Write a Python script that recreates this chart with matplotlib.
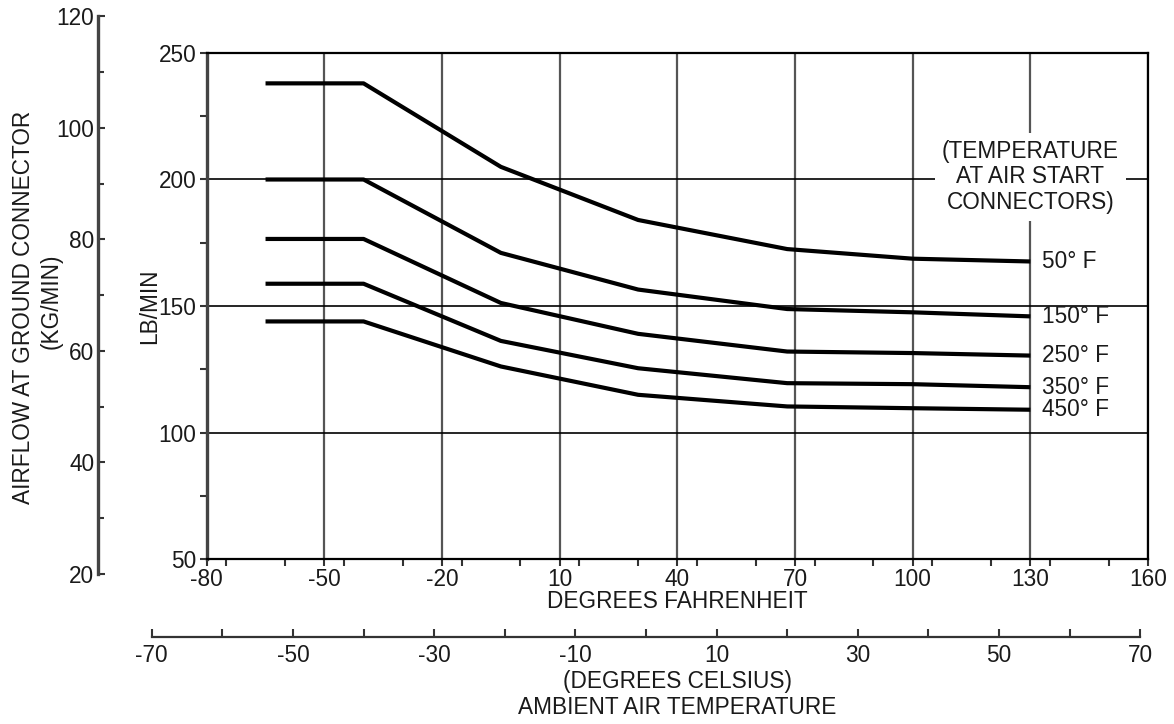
import matplotlib
matplotlib.use('Agg')
import matplotlib.pyplot as plt
from matplotlib.ticker import FixedLocator, MultipleLocator

plt.rcParams['font.family'] = ['Liberation Sans', 'DejaVu Sans']
plt.rcParams['axes.unicode_minus'] = False

# ---------------- data ----------------
temp_f = [-65, -40, -5, 30, 68, 100, 130]
series_labels = ['50° F', '150° F', '250° F', '350° F', '450° F']
flow_50 = [238, 238, 205, 184, 172.5, 168.7, 167.6]
flow_150 = [200, 200, 171, 156.5, 148.8, 147.5, 145.9]
flow_250 = [176.5, 176.5, 151.2, 139, 132, 131.4, 130.4]
flow_350 = [158.8, 158.8, 136.2, 125.4, 119.5, 119.1, 117.9]
flow_450 = [143.9, 143.9, 126.1, 114.9, 110.3, 109.6, 109]

f_ticks = [-80, -50, -20, 10, 40, 70, 100, 130, 160]
lb_ticks = [50, 100, 150, 200, 250]
kg_ticks = [20, 40, 60, 80, 100, 120]
c_ticks = [-70, -50, -30, -10, 10, 30, 50, 70]

LB_PER_KG = 2.20462

# ---------------- layout ----------------
W, H = 1174, 724
fig = plt.figure(figsize=(W / 100, H / 100), dpi=100)
L, R, B, T = 206.7, 1148.0, 559.0, 53.0   # main plot box in pixels
FS = 16.3
TXT = '#1a1a1a'

ax = fig.add_axes([L / W, 1 - B / H, (R - L) / W, (B - T) / H])
ax.set_xlim(-80, 160)
ax.set_ylim(50, 250)

for vals in [flow_50, flow_150, flow_250, flow_350, flow_450]:
    ax.plot(temp_f, vals, color='black', lw=3.0, solid_joinstyle='round',
            solid_capstyle='butt', zorder=3)
for lab, vals in zip(series_labels, [flow_50, flow_150, flow_250, flow_350, flow_450]):
    ax.text(133, vals[-1], lab, ha='left', va='center', fontsize=FS, color=TXT)

ax.text(130, 201, '(TEMPERATURE\nAT AIR START\nCONNECTORS)', ha='center',
        va='center', fontsize=FS, color=TXT, linespacing=1.15, zorder=4,
        bbox=dict(boxstyle='square,pad=0.3', fc='white', ec='none'))

ax.xaxis.set_major_locator(FixedLocator(f_ticks))
ax.xaxis.set_minor_locator(MultipleLocator(15))
ax.yaxis.set_major_locator(FixedLocator(lb_ticks))
ax.yaxis.set_minor_locator(MultipleLocator(25))
ax.tick_params(axis='both', which='major', direction='out', length=5, width=1.5,
               labelsize=FS, labelcolor=TXT, color='#333333')
ax.tick_params(axis='both', which='minor', direction='out', length=5, width=1.5,
               color='#333333')
ax.tick_params(axis='x', which='major', pad=1.5)
ax.tick_params(axis='y', which='major', pad=2.5)
ax.grid(axis='x', which='major', color='#555555', lw=1.6)
ax.grid(axis='y', which='major', color='black', lw=1.2)
ax.set_axisbelow(True)
ax.spines['top'].set_linewidth(1.6)
ax.spines['top'].set_color('black')
ax.spines['left'].set_linewidth(2.4)
ax.spines['left'].set_color('#444444')
ax.spines['bottom'].set_linewidth(1.6)
ax.spines['right'].set_linewidth(1.6)

def lb_to_py(lb):
    return B - (lb - 50) / 200 * (B - T)

def f_to_px(f):
    return L + (f + 80) / 240 * (R - L)

# ---------------- kg axis ----------------
kg_lo, kg_hi = kg_ticks[0], kg_ticks[-1]
py_lo, py_hi = lb_to_py(kg_lo * LB_PER_KG), lb_to_py(kg_hi * LB_PER_KG)
KX = 98.3
kax = fig.add_axes([KX / W, 1 - py_lo / H, 0.0005, (py_lo - py_hi) / H])
kax.set_ylim(kg_lo, kg_hi)
kax.patch.set_visible(False)
for s in ['top', 'right', 'bottom']:
    kax.spines[s].set_visible(False)
kax.spines['left'].set_linewidth(2.4)
kax.spines['left'].set_color('#444444')
kax.set_xticks([])
kax.yaxis.set_major_locator(FixedLocator(kg_ticks))
kax.yaxis.set_minor_locator(MultipleLocator(10))
kax.tick_params(axis='y', which='major', direction='in', length=5, width=1.5,
                labelsize=FS, labelcolor=TXT, pad=3, color='#333333')
kax.tick_params(axis='y', which='minor', direction='in', length=4, width=1.5,
                color='#333333')

# ---------------- Celsius axis ----------------
c_lo, c_hi = c_ticks[0], c_ticks[-1]
px_lo, px_hi = f_to_px(c_lo * 1.8 + 32), f_to_px(c_hi * 1.8 + 32)
CY = 636.7
cax = fig.add_axes([px_lo / W, 1 - CY / H, (px_hi - px_lo) / W, 0.0005])
cax.set_xlim(c_lo, c_hi)
cax.patch.set_visible(False)
for s in ['top', 'right', 'left']:
    cax.spines[s].set_visible(False)
cax.spines['bottom'].set_linewidth(1.6)
cax.spines['bottom'].set_color('#333333')
cax.set_yticks([])
cax.xaxis.set_major_locator(FixedLocator(c_ticks))
cax.xaxis.set_minor_locator(FixedLocator([c + 10 for c in c_ticks[:-1]]))
cax.tick_params(axis='x', which='major', direction='in', length=6, width=1.5,
                labelsize=FS, labelcolor=TXT, pad=5, color='#333333')
cax.tick_params(axis='x', which='minor', direction='in', length=6, width=1.5,
                color='#333333')

# ---------------- titles ----------------
cx = (L + R) / 2
fig.text(cx / W, 1 - 601.7 / H, 'DEGREES FAHRENHEIT', ha='center', va='center',
         fontsize=FS, color=TXT)
fig.text(cx / W, 1 - 681.7 / H, '(DEGREES CELSIUS)', ha='center', va='center',
         fontsize=FS, color=TXT)
fig.text(cx / W, 1 - 708 / H, 'AMBIENT AIR TEMPERATURE', ha='center', va='center',
         fontsize=FS, color=TXT)
fig.text(23.5 / W, 1 - 307 / H, 'AIRFLOW AT GROUND CONNECTOR', ha='center',
         va='center', rotation=90, fontsize=FS, color=TXT)
fig.text(51.5 / W, 1 - 301 / H, '(KG/MIN)', ha='center', va='center', rotation=90,
         fontsize=FS, color=TXT)
fig.text(150 / W, 1 - 306 / H, 'LB/MIN', ha='center', va='center', rotation=90,
         fontsize=FS, color=TXT)

fig.savefig('out.png', dpi=100, facecolor='white')
